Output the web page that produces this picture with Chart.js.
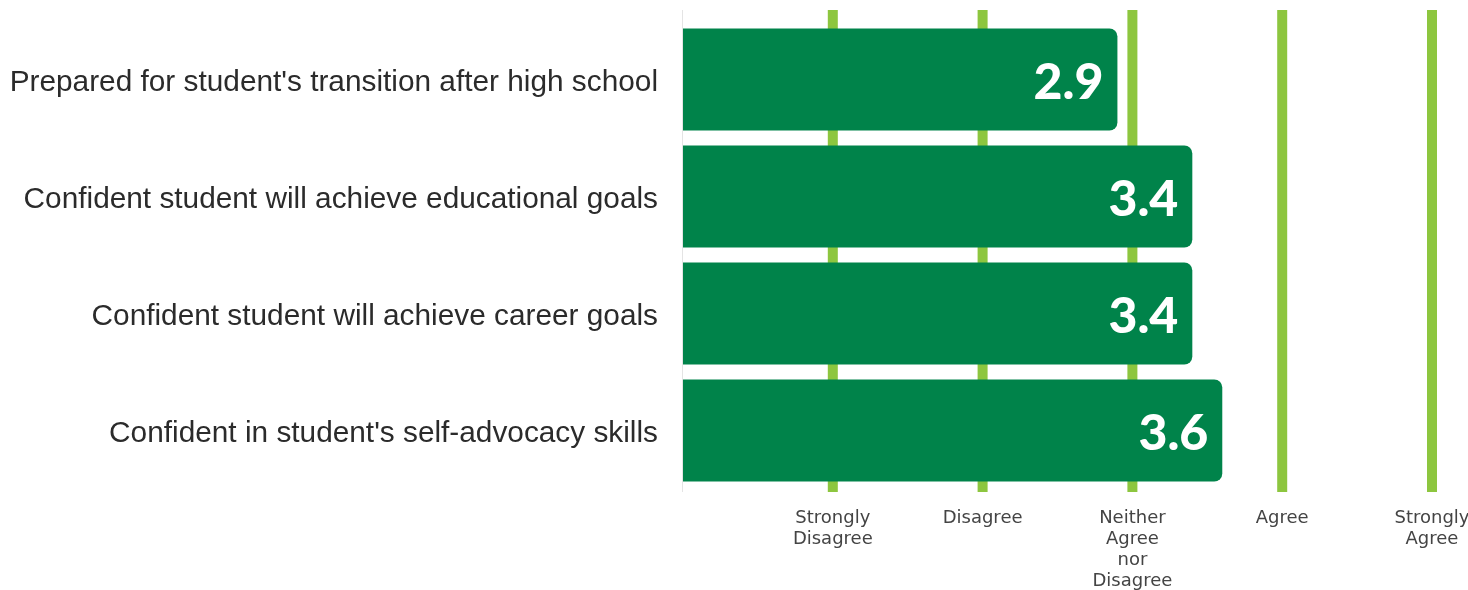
<!DOCTYPE html>
<html>
<head>
<meta charset="utf-8">
<title>Parent confidence ratings</title>
<script src="https://cdn.jsdelivr.net/npm/chart.js@4"></script>
<style>
  html, body { margin: 0; padding: 0; background: #fff; }
  #wrap { width: 1468px; height: 590px; }
</style>
</head>
<body>
<div id="wrap"><canvas id="chart"></canvas></div>
<script>
// survey items and their mean rating (1-5 scale)
const items = [
  "Prepared for student's transition after high school",
  "Confident student will achieve educational goals",
  "Confident student will achieve career goals",
  "Confident in student's self-advocacy skills"
];
const means = [2.9, 3.4, 3.4, 3.6];

// scale points and the words shown under them
const scalePoints = [1, 2, 3, 4, 5];
const scaleLabels = [
  ["Strongly", "Disagree"],
  ["Disagree"],
  ["Neither", "Agree", "nor", "Disagree"],
  ["Agree"],
  ["Strongly", "Agree"]
];

const barGreen = '#00834a';
const lineGreen = '#8dc63f';

// lime guide lines at each scale point, drawn under the bars
const guideLines = {
  id: 'guideLines',
  beforeDatasetsDraw(chart) {
    const { ctx, chartArea, scales } = chart;
    ctx.save();
    // faint base line on the left edge
    ctx.strokeStyle = '#e4e4e4';
    ctx.lineWidth = 1;
    ctx.beginPath();
    ctx.moveTo(chartArea.left - 0.5, chartArea.top - 11);
    ctx.lineTo(chartArea.left - 0.5, chartArea.bottom + 3);
    ctx.stroke();

    ctx.strokeStyle = lineGreen;
    ctx.lineWidth = 10;
    scalePoints.forEach(v => {
      const x = scales.x.getPixelForValue(v);
      ctx.beginPath();
      ctx.moveTo(x, chartArea.top - 11);
      ctx.lineTo(x, chartArea.bottom + 3);
      ctx.stroke();
    });
    ctx.restore();
  }
};

// value printed inside the end of each bar
const valueLabels = {
  id: 'valueLabels',
  afterDatasetsDraw(chart) {
    const { ctx } = chart;
    const meta = chart.getDatasetMeta(0);
    ctx.save();
    ctx.fillStyle = '#ffffff';
    ctx.font = '900 50px Lato';
    ctx.textAlign = 'right';
    ctx.textBaseline = 'middle';
    meta.data.forEach((bar, i) => {
      ctx.fillText(means[i].toFixed(1), bar.x - 14, bar.y + 3);
    });
    ctx.restore();
  }
};

new Chart(document.getElementById('chart'), {
  type: 'bar',
  data: {
    labels: items,
    datasets: [{
      data: means,
      backgroundColor: barGreen,
      borderRadius: 8,
      borderSkipped: 'start',
      categoryPercentage: 1,
      barPercentage: 0.872
    }]
  },
  options: {
    indexAxis: 'y',
    responsive: true,
    maintainAspectRatio: false,
    animation: false,
    layout: { padding: { top: 21, right: 36, bottom: 0, left: 0 } },
    scales: {
      x: {
        min: 0,
        max: 5,
        grid: { display: false, drawTicks: false },
        border: { display: false },
        afterFit: (scale) => {
          scale.height = 101;
          scale.paddingLeft = 0;
          scale.paddingRight = 0;
        },
        ticks: {
          stepSize: 1,
          padding: 19,
          color: '#444',
          font: { family: 'DejaVu Sans', size: 18, lineHeight: '21px' },
          callback: (v) => {
            const i = scalePoints.indexOf(v);
            return i < 0 ? '' : scaleLabels[i];
          }
        }
      },
      y: {
        grid: { display: false, drawTicks: false },
        border: { display: false },
        afterFit: (scale) => {
          scale.width = 683;
          scale.paddingTop = 0;
          scale.paddingBottom = 0;
        },
        ticks: {
          padding: 25,
          labelOffset: 3,
          color: '#2b2b2b',
          font: { family: 'Liberation Sans', size: 29.8 }
        }
      }
    },
    plugins: {
      legend: { display: false },
      tooltip: { enabled: false }
    }
  },
  plugins: [guideLines, valueLabels]
});
</script>
</body>
</html>
